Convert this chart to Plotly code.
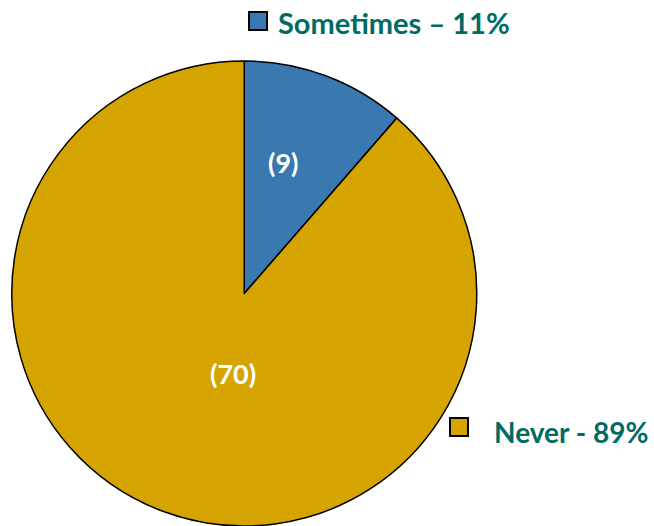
import plotly.graph_objects as go

categories = ["Sometimes", "Never"]
counts = [9, 70]
legend_texts = ["Sometimes \u2013 11%", "Never - 89%"]
colors = ["#3a78b0", "#d6a400"]

W, H = 654, 526

def px(x):
    return x / W

def py(y):
    return 1 - y / H

fig = go.Figure(go.Pie(
    labels=categories,
    values=counts,
    sort=False,
    direction="clockwise",
    rotation=0,
    marker=dict(colors=colors, line=dict(color="black", width=1.5)),
    textinfo="none",
    domain=dict(x=[px(11.5), px(477)], y=[0, py(61)]),
    showlegend=False,
    hoverinfo="label+value+percent",
))

# count labels inside slices
label_pos = [(283, 162), (233, 373)]
for (lx, ly), c in zip(label_pos, counts):
    fig.add_annotation(xref="paper", yref="paper", x=px(lx), y=py(ly),
                       xanchor="center", yanchor="middle", showarrow=False,
                       text="<b>(%d)</b>" % c,
                       font=dict(family="Lato", size=27, color="white"))

# legend-like labels
boxes = [(249, 12), (450, 418)]
text_pos = [(276, 23), (492, 432)]
text_sizes = [29, 28]
for (bx, by), (tx, ty), txt, col, fs in zip(boxes, text_pos, legend_texts, colors, text_sizes):
    fig.add_shape(type="rect", xref="paper", yref="paper",
                  x0=px(bx), x1=px(bx + 18), y0=py(by), y1=py(by + 18),
                  fillcolor=col, line=dict(color="black", width=2))
    fig.add_annotation(xref="paper", yref="paper", x=px(tx), y=py(ty),
                       xanchor="left", yanchor="middle", showarrow=False,
                       text="<b>" + txt + "</b>",
                       font=dict(family="Lato", size=fs, color="#006b63"))

fig.update_layout(width=W, height=H, margin=dict(l=0, r=0, t=0, b=0),
                  paper_bgcolor="white", plot_bgcolor="white")

fig.write_html("out.html",
               config={"displayModeBar": False},
               post_script="document.body.style.margin='0';document.body.style.overflow='hidden';")
